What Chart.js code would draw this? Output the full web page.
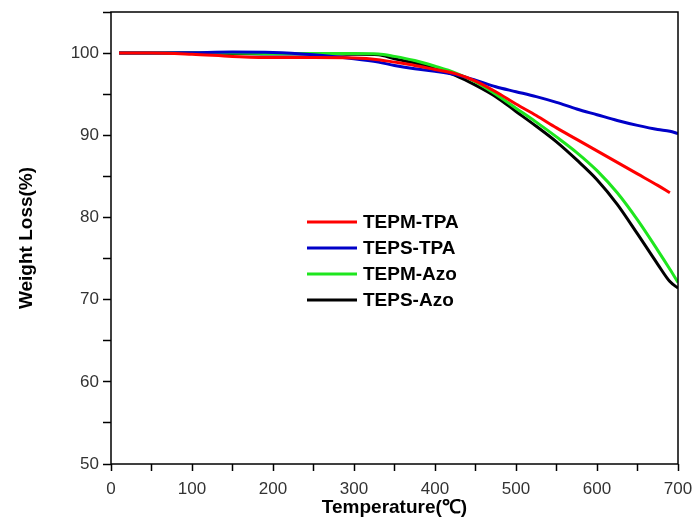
<!DOCTYPE html>
<html>
<head>
<meta charset="utf-8">
<script src="https://cdn.jsdelivr.net/npm/chart.js@4.4.1/dist/chart.umd.min.js"></script>
<style>
  html, body { margin: 0; padding: 0; background: #fff; }
  #wrap { width: 694px; height: 522px; }
</style>
</head>
<body>
<div id="wrap"><canvas id="tga" width="694" height="522"></canvas></div>
<script>
// TGA curves
const temps = [10, 50, 100, 150, 200, 250, 300, 330, 350, 375, 400, 425, 450, 475, 500, 525, 550, 575, 600, 625, 650, 675, 690, 700];

const tepmTpa = [100, 100, 99.85, 99.6, 99.45, 99.45, 99.4, 99.2, 98.9, 98.5, 98.0, 97.5, 96.6, 95.3, 93.8, 92.4, 90.9, 89.5, 88.1, 86.7, 85.3, 83.9, 83.0, null];
const tepsTpa = [100, 100, 100.05, 100.12, 100.08, 99.8, 99.3, 98.9, 98.5, 98.1, 97.8, 97.4, 96.7, 95.9, 95.3, 94.7, 94.0, 93.2, 92.5, 91.8, 91.2, 90.7, 90.5, 90.2];
const tepmAzo = [100, 100, 100, 100, 99.95, 99.95, 99.95, 99.9, 99.6, 99.1, 98.4, 97.6, 96.5, 95.0, 93.3, 91.6, 89.8, 87.9, 85.7, 83.0, 79.7, 76.0, 73.7, 72.1];
const tepsAzo = [100, 100, 100, 99.95, 99.9, 99.9, 99.85, 99.8, 99.3, 98.8, 98.1, 97.3, 96.1, 94.7, 92.9, 91.1, 89.2, 87.0, 84.6, 81.6, 78.0, 74.3, 72.2, 71.4];

const seriesNames = ['TEPM-TPA', 'TEPS-TPA', 'TEPM-Azo', 'TEPS-Azo'];
const seriesColors = ['#ff0000', '#0000c8', '#1ee61e', '#000000'];
const seriesValues = [tepmTpa, tepsTpa, tepmAzo, tepsAzo];

const xTickLabels = [0, 100, 200, 300, 400, 500, 600, 700];
const yTickLabels = [50, 60, 70, 80, 90, 100];

const FONT = "'Liberation Sans', Arial, sans-serif";

// frame round the plot area (top and right sides included)
const framePlugin = {
    id: 'frame',
    afterDraw(chart) {
        const a = chart.chartArea;
        const ctx = chart.ctx;
        ctx.save();
        ctx.strokeStyle = '#000';
        ctx.lineWidth = 1.5;
        ctx.strokeRect(a.left, a.top, a.right - a.left, a.bottom - a.top);
        ctx.restore();
    }
};

// legend sits inside the plot, left-centre
const insideLegend = {
    id: 'insideLegend',
    afterDraw(chart) {
        const ctx = chart.ctx;
        const x0 = 307, y0 = 222, rowH = 26;
        ctx.save();
        ctx.font = "bold 19px " + FONT;
        ctx.textBaseline = 'middle';
        chart.data.datasets.forEach((ds, i) => {
            const y = y0 + i * rowH;
            ctx.strokeStyle = ds.borderColor;
            ctx.lineWidth = 3;
            ctx.beginPath();
            ctx.moveTo(x0, y);
            ctx.lineTo(x0 + 50, y);
            ctx.stroke();
            ctx.fillStyle = '#000';
            ctx.fillText(ds.label, x0 + 56, y + 1);
        });
        ctx.restore();
    }
};

const datasets = seriesNames.map((name, i) => ({
    label: name,
    data: temps.map((t, j) => ({ x: t, y: seriesValues[i][j] })),
    borderColor: seriesColors[i],
    backgroundColor: seriesColors[i],
    borderWidth: 3,
    pointRadius: 0,
    fill: false,
    spanGaps: false,
    cubicInterpolationMode: 'monotone'
}));
// green is drawn over black, as in the original
datasets[2].order = 0;
datasets[3].order = 1;

new Chart(document.getElementById('tga'), {
    type: 'line',
    data: { datasets: datasets },
    plugins: [framePlugin, insideLegend],
    options: {
        responsive: false,
        animation: false,
        layout: { padding: { left: 15, right: 16, top: 12, bottom: 3 } },
        plugins: {
            legend: { display: false },
            tooltip: { enabled: false }
        },
        scales: {
            x: {
                type: 'linear',
                min: 0,
                max: 700,
                border: { display: false },
                grid: {
                    drawOnChartArea: false,
                    drawTicks: true,
                    tickLength: 7,
                    tickColor: '#000',
                    tickWidth: 1.5
                },
                ticks: {
                    stepSize: 50,
                    autoSkip: false,
                    maxRotation: 0,
                    color: '#333',
                    padding: 8,
                    font: { family: FONT, size: 17 },
                    callback: v => xTickLabels.includes(v) ? String(v) : ''
                },
                title: {
                    display: true,
                    text: 'Temperature(℃)',
                    color: '#000',
                    font: { family: FONT, size: 19, weight: 'bold' },
                    padding: { top: 0, bottom: 0 }
                },
                afterFit(scale) {
                    scale.height = 55;
                    scale.paddingLeft = 0;
                    scale.paddingRight = 0;
                }
            },
            y: {
                min: 50,
                max: 105,
                border: { display: false },
                grid: {
                    drawOnChartArea: false,
                    drawTicks: true,
                    tickLength: 8,
                    tickColor: '#000',
                    tickWidth: 1.5
                },
                ticks: {
                    stepSize: 5,
                    autoSkip: false,
                    color: '#333',
                    padding: 4,
                    font: { family: FONT, size: 17 },
                    callback: v => yTickLabels.includes(v) ? String(v) : ''
                },
                title: {
                    display: true,
                    text: 'Weight Loss(%)',
                    color: '#000',
                    font: { family: FONT, size: 19, weight: 'bold' },
                    padding: { top: 0, bottom: 12 }
                },
                afterFit(scale) {
                    scale.width = 96;
                    scale.paddingTop = 0;
                    scale.paddingBottom = 0;
                }
            }
        }
    }
});
</script>
</body>
</html>
